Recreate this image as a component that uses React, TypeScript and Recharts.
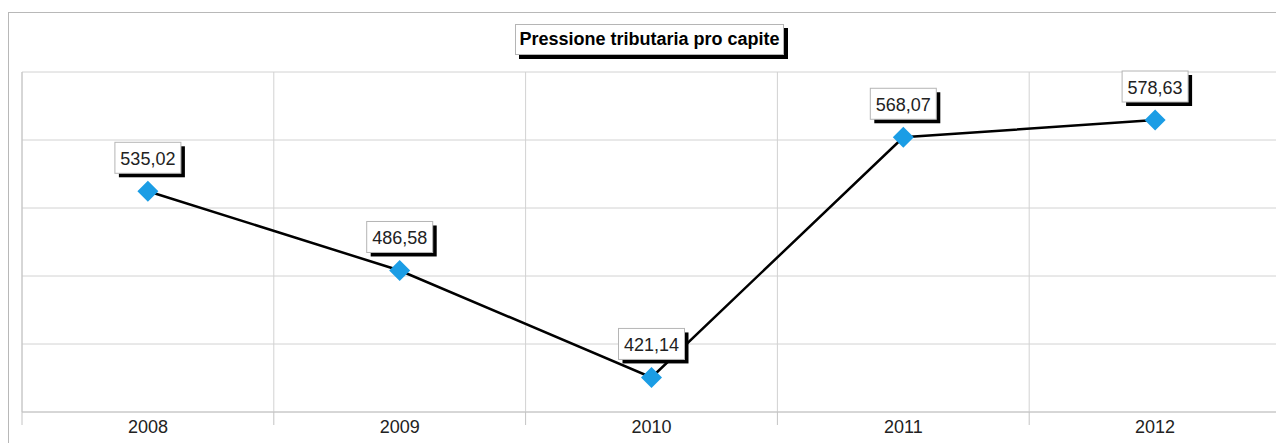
import { CartesianGrid, LabelList, Line, LineChart, ReferenceLine, XAxis, YAxis } from "recharts";

const years = ["2008", "2009", "2010", "2011", "2012"];
const pressione = [535.02, 486.58, 421.14, 568.07, 578.63];
const title = "Pressione tributaria pro capite";

const yDomain: [number, number] = [400, 608];
const yGridSteps = 5;

const FONT = '"Liberation Sans", Arial, sans-serif';

// ogni anno occupa una "fascia": il punto sta al centro, la griglia ai bordi
const data = years.map((year, i) => ({ pos: i + 0.5, year, value: pressione[i] }));
const bandTicks = [...years.map((_, i) => i), years.length];
const centerTicks = data.map((d) => d.pos);
const yTicks = Array.from(
  { length: yGridSteps + 1 },
  (_, i) => yDomain[0] + ((yDomain[1] - yDomain[0]) * i) / yGridSteps
);

const formatValue = (v: number) => v.toFixed(2).replace(".", ",");

function Diamond(props: any) {
  const { cx, cy, index } = props;
  if (cx == null || cy == null) return null;
  const r = 10.5;
  return (
    <path
      key={`dot-${index}`}
      d={`M${cx},${cy - r} L${cx + r},${cy} L${cx},${cy + r} L${cx - r},${cy} Z`}
      fill="#1b9de5"
    />
  );
}

function ValueBox(props: any) {
  const { x, y, value } = props;
  if (x == null || y == null) return null;
  const w = 66;
  const h = 31;
  const left = x - w / 2;
  const top = y - 18 - h;
  return (
    <g>
      <rect x={left + 4} y={top + 4} width={w} height={h} fill="#000" />
      <rect x={left} y={top} width={w} height={h} fill="#fff" stroke="#b5b5b5" />
      <text
        x={x}
        y={top + h / 2 + 1}
        textAnchor="middle"
        dominantBaseline="central"
        fontSize={18}
        fontFamily={FONT}
        fill="#222"
      >
        {formatValue(value)}
      </text>
    </g>
  );
}

// linee verticali ai bordi delle fasce annuali
const bandGrid = ({ offset }: any) =>
  bandTicks.map((t) => offset.left + (offset.width * t) / years.length);

export default function App() {
  return (
    <div style={{ position: "relative", width: 1276, height: 435, overflow: "hidden", fontFamily: FONT }}>
      <style>{"html,body{overflow:hidden}"}</style>
      <div
        style={{
          position: "absolute",
          left: 0,
          top: 4,
          width: 1320,
          height: 500,
          border: "1px solid #b8b8b8",
          boxSizing: "border-box",
        }}
      />
      <div style={{ position: "absolute", left: 0, top: 0 }}>
        <LineChart width={1276} height={435} data={data} margin={{ top: 64, right: 3, bottom: 8, left: 14 }}>
          <CartesianGrid
            xAxisId="band"
            stroke="#d2d2d2"
            strokeWidth={1}
            verticalCoordinatesGenerator={bandGrid}
          />
          <XAxis
            xAxisId="band"
            type="number"
            dataKey="pos"
            domain={[0, years.length]}
            ticks={bandTicks}
            tickFormatter={() => ""}
            tickSize={13}
            stroke="#c4c4c4"
            height={8}
            allowDataOverflow
          />
          <XAxis
            xAxisId="label"
            type="number"
            dataKey="pos"
            domain={[0, years.length]}
            ticks={centerTicks}
            tickFormatter={(v: number) => years[Math.floor(v)]}
            axisLine={false}
            tickLine={false}
            tickSize={0}
            tickMargin={0}
            tick={{ fontSize: 18, fill: "#222", fontFamily: FONT }}
            height={15}
          />
          <YAxis hide type="number" domain={yDomain} ticks={yTicks} allowDataOverflow />
          <ReferenceLine xAxisId="band" x={years.length} stroke="#bdbdbd" ifOverflow="visible" />
          <ReferenceLine xAxisId="band" x={0} stroke="#c4c4c4" ifOverflow="visible" />
          <Line
            xAxisId="label"
            type="linear"
            dataKey="value"
            stroke="#000"
            strokeWidth={2.5}
            dot={Diamond}
            activeDot={false}
            isAnimationActive={false}
          >
            <LabelList dataKey="value" content={ValueBox} />
          </Line>
        </LineChart>
      </div>
      <div
        style={{
          position: "absolute",
          left: 507,
          top: 16,
          width: 269,
          height: 31,
          boxSizing: "border-box",
          border: "1px solid #b5b5b5",
          background: "#fff",
          boxShadow: "4px 4px 0 #000",
          fontWeight: "bold",
          fontSize: 18,
          lineHeight: "29px",
          textAlign: "center",
          whiteSpace: "nowrap",
          color: "#000",
        }}
      >
        {title}
      </div>
    </div>
  );
}
